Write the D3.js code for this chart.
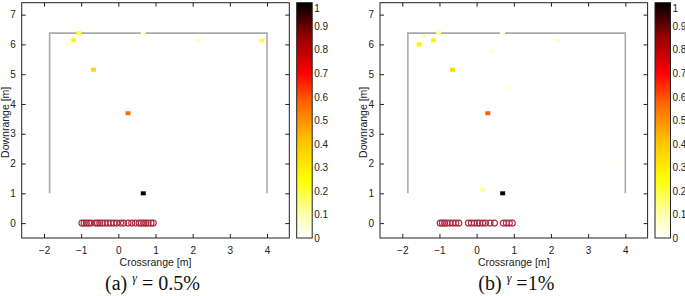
<!DOCTYPE html>
<html>
<head>
<meta charset="utf-8">
<script src="https://cdn.jsdelivr.net/npm/d3@7"></script>
<style>
  body { margin: 0; background: #fff; }
  svg { display: block; }
  .tick text { font-family: "Liberation Sans", Arial, sans-serif; font-size: 10px; fill: #222; }
  .axis-label { font-family: "Liberation Sans", Arial, sans-serif; font-size: 10.5px; fill: #222; }
  .caption { font-family: "Liberation Serif", "Times New Roman", serif; fill: #111; }
</style>
</head>
<body>
<svg width="685" height="296"></svg>
<script>
const svg = d3.select('svg');

// ticks
const xTicks = [-2, -1, 0, 1, 2, 3, 4];
const yTicks = [0, 1, 2, 3, 4, 5, 6, 7];
const cbTicks = [0, 0.1, 0.2, 0.3, 0.4, 0.5, 0.6, 0.7, 0.8, 0.9, 1];

// sensing region outline
const regionX = [-1.85, -1.85, 4, 4];
const regionY = [1, 6.38, 6.38, 1];

// panel (a) gamma = 0.5%
const aPointX = [0.67, 0.26, -0.67, -1.2, -1.06, -1.34, 0.67, 2.13, 3.86];
const aPointY = [1.0, 3.69, 5.15, 6.14, 6.38, 6.03, 6.38, 6.13, 6.13];
const aPointV = [1.0, 0.56, 0.36, 0.27, 0.2, 0.05, 0.07, 0.07, 0.2];
const aArrayX = [-0.98, -0.92, -0.86, -0.8, -0.74, -0.62, -0.56, -0.5, -0.44, -0.36, -0.28,
                 -0.2, -0.12, -0.04, 0.06, 0.14, 0.26, 0.36, 0.46, 0.56, 0.62, 0.68, 0.74, 0.8, 0.88, 0.94];

// panel (b) gamma = 1%
const bPointX = [-1.55, -1.43, -1.16, -1.02, -0.65, 0.43, 0.82, 0.7, 0.3, 2.17, 0.16, 0.7, 3.76];
const bPointY = [6.0, 6.27, 6.14, 6.38, 5.15, 5.78, 4.55, 6.38, 3.69, 6.13, 1.12, 1.0, 2.1];
const bPointV = [0.28, 0.08, 0.27, 0.12, 0.35, 0.05, 0.05, 0.03, 0.57, 0.06, 0.12, 1.0, 0.03];
const bArrayX = [-0.98, -0.92, -0.86, -0.8, -0.72, -0.64, -0.56, -0.48, -0.22, -0.14, -0.06,
                 0.02, 0.08, 0.16, 0.24, 0.36, 0.48, 0.72, 0.8, 0.88, 0.96];

const color = d3.scaleLinear()
  .domain([0, 0.12, 0.25, 0.42, 0.58, 0.7, 0.85, 1])
  .range(['#ffffff', '#ffff99', '#ffff00', '#ffbf00', '#ff6000', '#ff0000', '#990000', '#000000'])
  .clamp(true);

// shared colorbar gradient
const grad = svg.append('defs').append('linearGradient')
  .attr('id', 'cb').attr('x1', 0).attr('y1', 1).attr('x2', 0).attr('y2', 0);
d3.range(0, 1.0001, 0.02).forEach(t => {
  grad.append('stop').attr('offset', t).attr('stop-color', color(t));
});

const render = (ox, px, py, pv, arrX, capParts, capX) => {
  const left = 21.7, right = 289.3, top = 2.7, bottom = 238;

  const xScale = d3.scaleLinear().domain([-2.6, 4.6]).range([left, right]);
  const yScale = d3.scaleLinear().domain([-0.5, 7.4]).range([bottom, top]);

  const g = svg.append('g').attr('transform', `translate(${ox},0)`);

  // region outline
  const line = d3.line().x(d => xScale(d[0])).y(d => yScale(d[1]));
  g.append('path')
    .attr('d', line(regionX.map((x, i) => [x, regionY[i]])))
    .attr('fill', 'none')
    .attr('stroke', '#aaaaaa')
    .attr('stroke-width', 1.6);

  // array elements
  g.selectAll('.elem').data(arrX).enter().append('circle')
    .attr('cx', d => xScale(d))
    .attr('cy', yScale(0))
    .attr('r', 3)
    .attr('fill', 'none')
    .attr('stroke', '#a82a40')
    .attr('stroke-width', 1.1);

  // detections
  const pts = px.map((x, i) => ({x, y: py[i], v: pv[i]}))
    .sort((a, b) => a.v - b.v);
  g.selectAll('.pt').data(pts).enter().append('rect')
    .attr('x', d => xScale(d.x) - 2.5)
    .attr('y', d => yScale(d.y) - 2)
    .attr('width', 5)
    .attr('height', 4)
    .attr('fill', d => color(d.v));

  // axes with inward ticks, mirrored
  const xAxisG = g.append('g').attr('transform', `translate(0,${bottom})`)
    .call(d3.axisBottom(xScale).tickValues(xTicks).tickSizeInner(-4).tickSizeOuter(0).tickPadding(9));
  const xTopG = g.append('g').attr('transform', `translate(0,${top})`)
    .call(d3.axisTop(xScale).tickValues(xTicks).tickSizeInner(-4).tickSizeOuter(0).tickFormat(''));
  const yAxisG = g.append('g').attr('transform', `translate(${left},0)`)
    .call(d3.axisLeft(yScale).tickValues(yTicks).tickSizeInner(-4).tickSizeOuter(0).tickPadding(6));
  const yRightG = g.append('g').attr('transform', `translate(${right},0)`)
    .call(d3.axisRight(yScale).tickValues(yTicks).tickSizeInner(-4).tickSizeOuter(0).tickFormat(''));
  [xAxisG, xTopG, yAxisG, yRightG].forEach(a => {
    a.select('.domain').remove();
    a.selectAll('line').attr('stroke', '#222');
  });

  g.append('rect')
    .attr('x', left).attr('y', top)
    .attr('width', right - left).attr('height', bottom - top)
    .attr('fill', 'none').attr('stroke', '#222').attr('stroke-width', 1);

  g.append('text').attr('class', 'axis-label')
    .attr('x', (left + right) / 2).attr('y', 266)
    .attr('text-anchor', 'middle')
    .text('Crossrange [m]');

  g.append('text').attr('class', 'axis-label')
    .attr('transform', `translate(8.6,${(top + bottom) / 2 + 2}) rotate(-90)`)
    .attr('text-anchor', 'middle')
    .text('Downrange [m]');

  // colorbar
  const cbLeft = 296.7, cbW = 15.5;
  const cbScale = d3.scaleLinear().domain([0, 1]).range([bottom, top]);
  g.append('rect')
    .attr('x', cbLeft).attr('y', top)
    .attr('width', cbW).attr('height', bottom - top)
    .attr('fill', 'url(#cb)').attr('stroke', '#222').attr('stroke-width', 1);
  const cbAxisG = g.append('g').attr('transform', `translate(${cbLeft + cbW},0)`)
    .call(d3.axisRight(cbScale).tickValues(cbTicks).tickSize(0).tickPadding(2).tickFormat(d3.format('~g')));
  cbAxisG.select('.domain').remove();
  // keep the top label inside the page
  cbAxisG.selectAll('.tick text').filter(d => d === 1).attr('dy', '0.85em');

  // caption
  const cap = g.append('text').attr('class', 'caption')
    .attr('x', capX).attr('y', 290);
  cap.append('tspan').attr('font-size', 20).text(capParts[0]);
  cap.append('tspan').attr('font-size', 12).attr('font-style', 'italic').attr('dy', -8).text('\u03B3');
  cap.append('tspan').attr('font-size', 20).attr('dy', 8).text(capParts[1]);
};

render(0, aPointX, aPointY, aPointV, aArrayX, ['(a) ', ' = 0.5%'], 105);
render(358.3, bPointX, bPointY, bPointV, bArrayX, ['(b) ', ' =1%'], 120);
</script>
</body>
</html>
